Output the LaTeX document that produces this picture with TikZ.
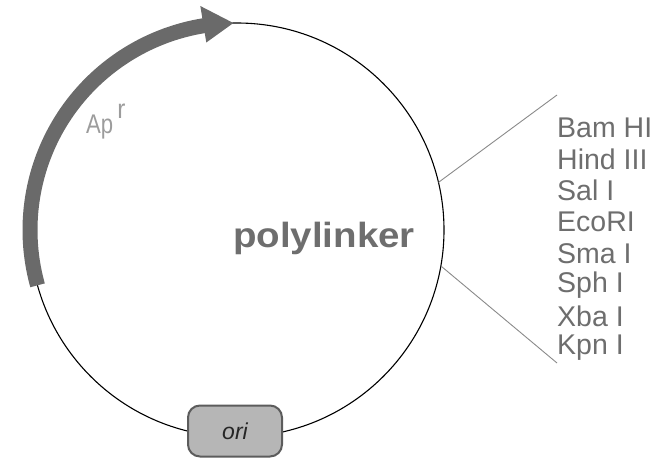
\documentclass[tikz,border=0pt]{standalone}
\usepackage{fontspec}
\setmainfont{Liberation Sans}
\usetikzlibrary{calc}
\definecolor{bandgray}{HTML}{6A6A6A}
\definecolor{textgray}{HTML}{6E6E6E}
\definecolor{lightgray}{HTML}{9C9C9C}
\definecolor{boxfill}{HTML}{B6B6B6}
\definecolor{boxedge}{HTML}{5C5C5C}
\definecolor{leadgray}{HTML}{8A8A8A}
\tikzset{
  plasmid/.style={draw=black, line width=1.1pt},
  band/.style={draw=bandgray, line width=15pt},
  lead/.style={draw=leadgray, line width=0.9pt},
  site/.style={anchor=west, inner sep=0pt, text=textgray, font=\fontsize{28.5}{28.5}\selectfont},
  oribox/.style={draw=boxedge, fill=boxfill, line width=2pt, rounded corners=12pt,
    minimum width=94pt, minimum height=51pt, inner sep=0pt,
    font=\itshape\fontsize{23}{23}\selectfont, text=black!85}
}
\begin{document}
\begin{tikzpicture}[x=1pt,y=1pt]
  \useasboundingbox (0,0) rectangle (660,459);
  \coordinate (C) at (237,229);

  % backbone of the plasmid
  \draw[plasmid] (C) circle[radius=207pt];

  % ampicillin resistance gene, running clockwise
  \draw[band] ($(C)+(195.5:207pt)$) arc[start angle=195.5, end angle=98.5, radius=207pt];
  \fill[bandgray] ($(C)+(99.3:227pt)$) -- ($(C)+(91:207pt)$) -- ($(C)+(99.3:190pt)$) -- cycle;
  \node[anchor=base west, inner sep=0pt, text=lightgray, font=\fontsize{27}{27}\selectfont]
    (apr) at (86,326) {\scalebox{0.82}[1]{Ap}\hspace{4pt}\raisebox{15pt}{\scalebox{0.9}[1]{r}}};

  % origin of replication
  \node[oribox] (ori) at (235,28) {ori};

  % polylinker region and its restriction sites
  \node[anchor=base, inner sep=0pt, text=textgray, font=\bfseries\fontsize{35}{35}\selectfont]
    (poly) at (324,212) {\scalebox{1.1}[1]{polylinker}};
  \coordinate (p1) at ($(C)+(13.3:207pt)$);
  \coordinate (p2) at ($(C)+(-10:207pt)$);
  \coordinate (t1) at (557,364);
  \coordinate (t2) at (557,96);
  \draw[lead] (p1) -- (t1);
  \draw[lead] (p2) -- (t2);

  \node[site] (s1) at (557,331) {Bam HI};
  \node[site] (s2) at (557,299.6) {Hind III};
  \node[site] (s3) at (557,268.2) {Sal I};
  \node[site] (s4) at (557,236.8) {EcoRI};
  \node[site] (s5) at (557,205.4) {Sma I};
  \node[site] (s6) at (557,174) {Sph I};
  \node[site] (s7) at (557,142.6) {Xba I};
  \node[site] (s8) at (557,111.2) {Kpn I};
\end{tikzpicture}
\end{document}
